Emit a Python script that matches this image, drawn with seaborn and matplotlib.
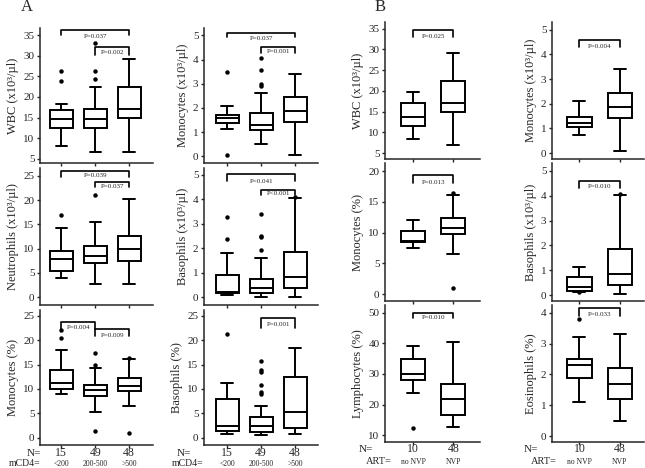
import numpy as np
import pandas as pd
import matplotlib
matplotlib.use("Agg")
import matplotlib.pyplot as plt
import matplotlib.transforms as mtrans
import seaborn as sns

# ---------------- data (five-number summaries: min-whisker, Q1, median, Q3, max-whisker) ----------------
cd4_groups = ["<200", "200-500", ">500"]
cd4_n = ["15", "49", "48"]
art_groups = ["no NVP", "NVP"]
art_n = ["10", "48"]

wbc_A_stats = [[8.2, 12.4, 14.7, 16.8, 18.2], [6.6, 12.4, 14.7, 17.0, 22.4], [6.7, 15.0, 17.2, 22.3, 29.2]]
wbc_A_fliers = [[23.8, 26.4], [24.4, 26.4, 33.1], []]
mono_A_stats = [[1.13, 1.40, 1.57, 1.70, 2.10], [0.53, 1.08, 1.29, 1.80, 2.60], [0.08, 1.44, 1.88, 2.45, 3.40]]
mono_A_fliers = [[0.07, 3.48], [2.92, 3.00, 3.55, 4.08], []]
neut_A_stats = [[3.9, 5.5, 7.8, 9.5, 14.2], [2.7, 7.0, 8.5, 10.5, 15.5], [2.7, 7.5, 10.0, 12.6, 20.3]]
neut_A_fliers = [[16.9], [21.0], []]
baso_A_stats = [[0.08, 0.18, 0.23, 0.90, 1.80], [0.03, 0.17, 0.37, 0.76, 1.60], [0.03, 0.37, 0.85, 1.87, 4.05]]
baso_A_fliers = [[2.37, 3.27], [1.93, 2.45, 2.52, 3.39], [4.08]]
monop_A_stats = [[9.0, 10.0, 11.3, 13.9, 18.0], [5.3, 8.5, 9.7, 10.8, 14.2], [6.5, 9.6, 10.6, 12.3, 16.1]]
monop_A_fliers = [[20.5, 22.0], [1.4, 15.0, 17.3], [0.9, 16.4]]
basop_A_stats = [[0.7, 1.4, 2.3, 7.9, 11.2], [0.5, 1.2, 2.4, 4.2, 6.6], [0.7, 2.0, 5.2, 12.4, 18.5]]
basop_A_fliers = [[21.3], [9.0, 9.4, 10.8, 13.4, 13.9, 15.8], []]

wbc_B_stats = [[8.4, 11.5, 13.8, 17.1, 19.6], [6.9, 14.9, 17.1, 22.3, 29.1]]
wbc_B_fliers = [[], []]
mono_B_stats = [[0.73, 1.04, 1.23, 1.47, 2.10], [0.10, 1.42, 1.88, 2.45, 3.40]]
mono_B_fliers = [[], []]
monop_B_stats = [[7.5, 8.5, 8.6, 10.3, 12.0], [6.5, 9.7, 10.7, 12.3, 16.1]]
monop_B_fliers = [[], [1.0, 16.4]]
baso_B_stats = [[0.14, 0.17, 0.33, 0.72, 1.15], [0.06, 0.40, 0.85, 1.87, 4.05]]
baso_B_fliers = [[0.12], [4.08]]
lymph_B_stats = [[23.8, 28.0, 30.0, 35.0, 39.1], [12.6, 16.7, 21.8, 26.7, 40.3]]
lymph_B_fliers = [[12.3], []]
eos_B_stats = [[1.1, 1.9, 2.3, 2.5, 3.2], [0.5, 1.2, 1.7, 2.2, 3.3]]
eos_B_fliers = [[3.8], []]

# significance annotations: (group i, group j, p-text)
wbc_A_p = [(0, 2, "P=0.037"), (1, 2, "P=0.002")]
mono_A_p = [(0, 2, "P=0.037"), (1, 2, "P=0.001")]
neut_A_p = [(0, 2, "P=0.039"), (1, 2, "P=0.037")]
baso_A_p = [(0, 2, "P=0.041"), (1, 2, "P<0.001")]
monop_A_p = [(0, 1, "P=0.004"), (1, 2, "P=0.009")]
basop_A_p = [(1, 2, "P=0.001")]
wbc_B_p = [(0, 1, "P=0.025")]
mono_B_p = [(0, 1, "P=0.004")]
monop_B_p = [(0, 1, "P=0.013")]
baso_B_p = [(0, 1, "P=0.010")]
lymph_B_p = [(0, 1, "P=0.010")]
eos_B_p = [(0, 1, "P=0.033")]

# ---------------- style ----------------
sns.set_theme(style="ticks")
plt.rcParams['font.family'] = ['Liberation Serif', 'DejaVu Serif']
plt.rcParams['axes.linewidth'] = 1.1
plt.rcParams['xtick.major.size'] = 2.5
plt.rcParams['ytick.major.size'] = 2.5
plt.rcParams['xtick.major.width'] = 1.0
plt.rcParams['ytick.major.width'] = 1.0
plt.rcParams['xtick.major.pad'] = 1.5
plt.rcParams['ytick.major.pad'] = 1.5

W, H = 645, 468
fig = plt.figure(figsize=(W / 100, H / 100), dpi=100)


def add_ax(x0, x1, y0, y1):
    return fig.add_axes([x0 / W, 1 - y1 / H, (x1 - x0) / W, (y1 - y0) / H])


# panel layout: (stats, fliers, groups, ylabel, rect, ylim, yticks, xlim, width, brackets[(line_y, leg_y, text_y)])
panels = [
    (wbc_A_stats, wbc_A_fliers, cd4_groups, "WBC (x10³/µl)", (40, 153, 28, 163), (4, 36.7), np.arange(5, 36, 5),
     (-0.63, 2.7), 0.68, wbc_A_p, [(36.2, 35.0, 34.7), (32.0, 30.2, 30.7)]),
    (mono_A_stats, mono_A_fliers, cd4_groups, "Monocytes (x10³/µl)", (204, 318, 28, 163), (-0.27, 5.3), np.arange(0, 6),
     (-0.68, 2.67), 0.68, mono_A_p, [(5.11, 4.93, 4.86), (4.50, 4.25, 4.33)]),
    (neut_A_stats, neut_A_fliers, cd4_groups, "Neutrophils (x10³/µl)", (40, 153, 168, 305), (-1.6, 26.6), np.arange(0, 26, 5),
     (-0.63, 2.7), 0.68, neut_A_p, [(26.0, 24.8, 25.0), (23.8, 22.6, 22.7)]),
    (baso_A_stats, baso_A_fliers, cd4_groups, "Basophils (x10³/µl)", (204, 318, 168, 305), (-0.31, 5.28), np.arange(0, 6),
     (-0.68, 2.67), 0.68, baso_A_p, [(5.03, 4.75, 4.72), (4.40, 4.16, 4.25)]),
    (monop_A_stats, monop_A_fliers, cd4_groups, "Monocytes (%)", (40, 153, 310, 445), (-1.5, 26.2), np.arange(0, 26, 5),
     (-0.63, 2.7), 0.68, monop_A_p, [(23.7, 22.2, 22.7), (22.2, 20.8, 21.0)]),
    (basop_A_stats, basop_A_fliers, cd4_groups, "Basophils (%)", (204, 318, 310, 445), (-1.5, 26.2), np.arange(0, 26, 5),
     (-0.68, 2.67), 0.68, basop_A_p, [(24.5, 22.6, 23.2)]),
    (wbc_B_stats, wbc_B_fliers, art_groups, "WBC (x10³/µl)", (385, 480, 22, 159), (3.56, 36.6), np.arange(5, 36, 5),
     (-0.71, 1.67), 0.6, wbc_B_p, [(34.6, 33.0, 33.2)]),
    (mono_B_stats, mono_B_fliers, art_groups, "Monocytes (x10³/µl)", (552, 644, 22, 159), (-0.24, 5.31), np.arange(0, 6),
     (-0.68, 1.6), 0.6, mono_B_p, [(4.57, 4.30, 4.33)]),
    (monop_B_stats, monop_B_fliers, art_groups, "Monocytes (%)", (385, 480, 163, 301), (-1.1, 21.3), np.arange(0, 21, 5),
     (-0.71, 1.67), 0.6, monop_B_p, [(19.35, 18.0, 18.1)]),
    (baso_B_stats, baso_B_fliers, art_groups, "Basophils (x10³/µl)", (552, 644, 163, 301), (-0.24, 5.32), np.arange(0, 6),
     (-0.68, 1.6), 0.6, baso_B_p, [(4.60, 4.33, 4.37)]),
    (lymph_B_stats, lymph_B_fliers, art_groups, "Lymphocytes (%)", (385, 480, 305, 442), (7.8, 52.5), np.arange(10, 51, 10),
     (-0.71, 1.67), 0.6, lymph_B_p, [(50.0, 48.2, 48.4)]),
    (eos_B_stats, eos_B_fliers, art_groups, "Eosinophils (%)", (552, 644, 305, 442), (-0.19, 4.25), np.arange(0, 5),
     (-0.68, 1.6), 0.6, eos_B_p, [(4.15, 3.9, 3.95)]),
]

axes = []
for stats, fliers, groups, ylabel, rect, ylim, yticks, xlim, width, pvals, brk in panels:
    ax = add_ax(*rect)
    axes.append(ax)
    box_df = pd.DataFrame({
        "group": [g for g, s in zip(groups, stats) for _ in s],
        "value": [v for s in stats for v in s],
    })
    sns.boxplot(data=box_df, x="group", y="value", order=groups, whis=(0, 100), showfliers=False,
                width=width, color="white", linecolor="black", linewidth=1.4, saturation=1, ax=ax)
    fl_df = pd.DataFrame({
        "group": [g for g, f in zip(groups, fliers) for _ in f],
        "value": [v for f in fliers for v in f],
    })
    if len(fl_df):
        sns.stripplot(data=fl_df, x="group", y="value", order=groups, jitter=False, color="black",
                      size=3.2, linewidth=0, ax=ax)
    for (i, j, txt), (ly, legy, ty) in zip(pvals, brk):
        ax.plot([i, i, j, j], [legy, ly, ly, legy], color="black", lw=1.2, clip_on=False)
        ax.text((i + j) / 2, ty, txt, ha="center", va="center", fontsize=5, color="#222222")
    ax.set_ylim(*ylim)
    ax.set_xlim(*xlim)
    ax.set_yticks(yticks)
    ax.set_xticks(range(len(groups)))
    ax.set_xticklabels([])
    ax.set_xlabel("")
    ax.set_ylabel(ylabel, fontsize=9, labelpad=3)
    ax.tick_params(axis="y", labelsize=8)
    sns.despine(ax=ax)

# bottom labels
def fig_y(py):
    return 1 - py / H

for ax, groups, ns, yn, yg in [(axes[4], cd4_groups, cd4_n, 453, 464), (axes[5], cd4_groups, cd4_n, 453, 464),
                               (axes[10], art_groups, art_n, 449, 462), (axes[11], art_groups, art_n, 449, 462)]:
    tr = mtrans.blended_transform_factory(ax.transData, fig.transFigure)
    for k, (g, n) in enumerate(zip(groups, ns)):
        ax.text(k, fig_y(yn), n, transform=tr, ha="center", va="center", fontsize=8.5, clip_on=False)
        ax.text(k, fig_y(yg), g, transform=tr, ha="center", va="center", fontsize=5.5, clip_on=False)

fig.text(40.7 / W, fig_y(453), "N=", ha="right", va="center", fontsize=8)
fig.text(40.7 / W, fig_y(464), "mCD4=", ha="right", va="center", fontsize=7)
fig.text(191 / W, fig_y(453), "N=", ha="right", va="center", fontsize=8)
fig.text(203 / W, fig_y(464), "mCD4=", ha="right", va="center", fontsize=7)
fig.text(373 / W, fig_y(449), "N=", ha="right", va="center", fontsize=8)
fig.text(392 / W, fig_y(462), "ART=", ha="right", va="center", fontsize=7.5)
fig.text(538 / W, fig_y(449), "N=", ha="right", va="center", fontsize=8)
fig.text(557 / W, fig_y(462), "ART=", ha="right", va="center", fontsize=7.5)

fig.text(27 / W, fig_y(7), "A", ha="center", va="center", fontsize=12)
fig.text(380.5 / W, fig_y(7), "B", ha="center", va="center", fontsize=12)

fig.savefig("out.png", dpi=100)
